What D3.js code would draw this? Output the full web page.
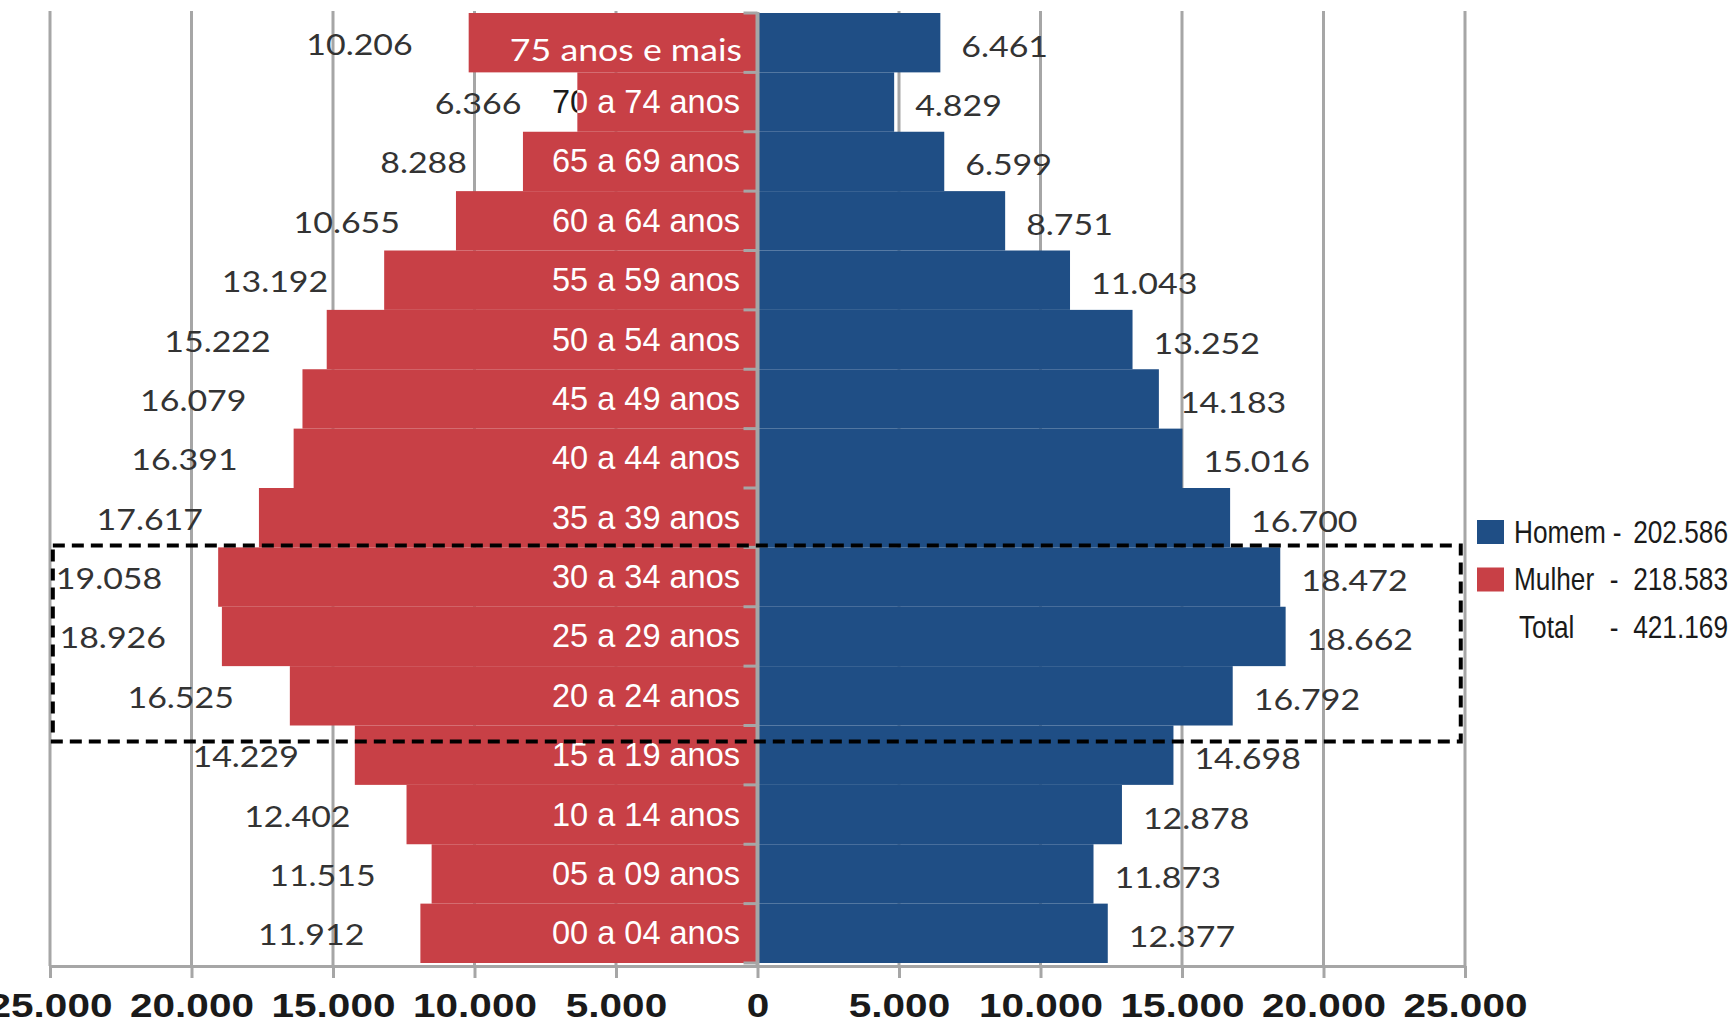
<!DOCTYPE html>
<html>
<head>
<meta charset="utf-8">
<script src="https://cdn.jsdelivr.net/npm/d3@7"></script>
<style>
  html, body { margin: 0; padding: 0; background: #fff; }
  svg { display: block; }
</style>
</head>
<body>
<svg id="chart" width="1734" height="1024"></svg>
<script>
// Age groups, from oldest (top) to youngest (bottom)
const ageGroups = [
  "75 anos e mais", "70 a 74 anos", "65 a 69 anos", "60 a 64 anos",
  "55 a 59 anos", "50 a 54 anos", "45 a 49 anos", "40 a 44 anos",
  "35 a 39 anos", "30 a 34 anos", "25 a 29 anos", "20 a 24 anos",
  "15 a 19 anos", "10 a 14 anos", "05 a 09 anos", "00 a 04 anos"
];
// Women (Mulher), left side
const women = [10206, 6366, 8288, 10655, 13192, 15222, 16079, 16391,
               17617, 19058, 18926, 16525, 14229, 12402, 11515, 11912];
// Men (Homem), right side
const men = [6461, 4829, 6599, 8751, 11043, 13252, 14183, 15016,
             16700, 18472, 18662, 16792, 14698, 12878, 11873, 12377];
// Axis ticks (signed: negative = women side)
const axisTicks = [-25000, -20000, -15000, -10000, -5000, 0,
                   5000, 10000, 15000, 20000, 25000];
// Highlighted age groups (dashed frame)
const highlighted = ["30 a 34 anos", "25 a 29 anos", "20 a 24 anos"];

const RED = "#C84046", BLUE = "#1F4E85", GRID = "#A6A6A6", TXT = "#333333";
const SANS = "'Liberation Sans', Arial, sans-serif";
const labelFont = "Lato, 'Open Sans', sans-serif";

const br = d3.formatLocale({ decimal: ",", thousands: ".", grouping: [3], currency: ["", ""] });
const fmt = br.format(",d");

const svg = d3.select("#chart");
svg.append("rect").attr("width", 1734).attr("height", 1024).attr("fill", "#fff");

const x = d3.scaleLinear().domain([-25000, 25000]).range([50, 1465]);
const y = d3.scaleBand().domain(ageGroups).range([13, 963]).padding(0);
const bw = y.bandwidth();
const x0 = x(0);
const axisY = 966;

const rows = ageGroups.map((g, i) => ({ g, i, w: women[i], m: men[i] }));

// vertical gridlines
svg.append("g").selectAll("line")
  .data(axisTicks.filter(t => t !== 0))
  .join("line")
  .attr("x1", d => x(d)).attr("x2", d => x(d))
  .attr("y1", 11).attr("y2", axisY)
  .attr("stroke", GRID).attr("stroke-width", 3);

// value labels
const valG = svg.append("g")
  .attr("font-family", labelFont).attr("font-size", 29).attr("fill", TXT);
valG.selectAll("text.w").data(rows).join("text")
  .attr("class", "w")
  .attr("text-anchor", "end")
  .attr("dominant-baseline", "central")
  .attr("transform", d => `translate(${x(-d.w) - 56},${y(d.g) + bw / 2 + 1}) scale(1.17,1)`)
  .text(d => fmt(d.w));
valG.selectAll("text.m").data(rows).join("text")
  .attr("class", "m")
  .attr("text-anchor", "start")
  .attr("dominant-baseline", "central")
  .attr("transform", d => `translate(${x(d.m) + 21},${y(d.g) + bw / 2 + 3}) scale(1.17,1)`)
  .text(d => fmt(d.m));

// category labels: dark copy underneath, white copy clipped to the women's bars
function catLabels(g, fill) {
  g.selectAll("text").data(rows).join("text")
    .attr("text-anchor", "end")
    .attr("dominant-baseline", "central")
    .attr("fill", fill)
    .attr("font-family", d => d.i === 0 ? labelFont : SANS)
    .attr("font-size", d => d.i === 0 ? 30 : 32.5)
    .attr("transform", d => d.i === 0
      ? `translate(742,${y(d.g) + bw / 2 + 6}) scale(1.19,1)`
      : `translate(740,${y(d.g) + bw / 2})`)
    .text(d => d.g);
}
catLabels(svg.append("g"), "#1a1a1a");

// bars
svg.append("g").selectAll("rect").data(rows).join("rect")
  .attr("x", d => x(-d.w)).attr("width", d => x0 - x(-d.w))
  .attr("y", d => y(d.g)).attr("height", bw)
  .attr("fill", RED);
svg.append("g").selectAll("rect").data(rows).join("rect")
  .attr("x", x0).attr("width", d => x(d.m) - x0)
  .attr("y", d => y(d.g)).attr("height", bw)
  .attr("fill", BLUE);

const clip = svg.append("clipPath").attr("id", "womenBars");
clip.selectAll("rect").data(rows).join("rect")
  .attr("x", d => x(-d.w)).attr("width", d => x0 - x(-d.w))
  .attr("y", d => y(d.g)).attr("height", bw);
catLabels(svg.append("g").attr("clip-path", "url(#womenBars)"), "#ffffff");

// central category axis with tick marks at band boundaries
const bounds = ageGroups.map(g => y(g)).concat([y.range()[1]]);
svg.append("line")
  .attr("x1", x0).attr("x2", x0).attr("y1", 12).attr("y2", axisY)
  .attr("stroke", GRID).attr("stroke-width", 4);
svg.append("g").selectAll("line").data(bounds).join("line")
  .attr("x1", x0 - 14).attr("x2", x0)
  .attr("y1", d => d).attr("y2", d => d)
  .attr("stroke", GRID).attr("stroke-width", 3);

// bottom value axis
const xAxis = d3.axisBottom(x)
  .tickValues(axisTicks)
  .tickSize(12).tickSizeOuter(0)
  .tickFormat(d => fmt(Math.abs(d)));
const ax = svg.append("g").attr("transform", `translate(0,${axisY})`).call(xAxis);
ax.select(".domain").attr("stroke", GRID).attr("stroke-width", 3);
ax.selectAll(".tick line").attr("stroke", GRID).attr("stroke-width", 3);
ax.selectAll(".tick text")
  .attr("fill", "#1a1a1a")
  .attr("font-family", SANS)
  .attr("font-weight", "bold")
  .attr("font-size", 33.5)
  .attr("y", null).attr("dy", null)
  .attr("transform", "translate(0,51) scale(1.21,1)");

// dashed frame around the 20-34 age groups
const frameTop = y(highlighted[0]) - 2;
const frameBottom = y(highlighted[highlighted.length - 1]) + bw + 16;
svg.append("rect")
  .attr("x", x(-24900)).attr("width", x(24850) - x(-24900))
  .attr("y", frameTop).attr("height", frameBottom - frameTop)
  .attr("fill", "none").attr("stroke", "#000")
  .attr("stroke-width", 4).attr("stroke-dasharray", "12 7");

// legend with totals (condensed lettering)
const totalMen = d3.sum(men), totalWomen = d3.sum(women);
const legend = [
  { name: "Homem", value: totalMen, color: BLUE },
  { name: "Mulher", value: totalWomen, color: RED },
  { name: "Total", value: totalMen + totalWomen, color: null }
];
const lg = svg.append("g")
  .attr("font-family", SANS).attr("font-size", 32).attr("fill", "#1a1a1a");
const lrow = lg.selectAll("g").data(legend).join("g")
  .attr("transform", (d, i) => `translate(1477,${532 + i * 47.5})`);
lrow.filter(d => d.color).append("rect")
  .attr("x", 0).attr("y", -12).attr("width", 27).attr("height", 24)
  .attr("fill", d => d.color);
const narrow = (tx) => `translate(${tx},0) scale(0.82,1)`;
lrow.append("text").attr("transform", d => narrow(d.color ? 37 : 42))
  .attr("dominant-baseline", "central").text(d => d.name);
lrow.append("text").attr("transform", (d, i) => narrow(i === 0 ? 140 : 137))
  .attr("text-anchor", "middle")
  .attr("dominant-baseline", "central").text("-");
lrow.append("text").attr("transform", narrow(251)).attr("text-anchor", "end")
  .attr("dominant-baseline", "central").text(d => fmt(d.value));
</script>
</body>
</html>
